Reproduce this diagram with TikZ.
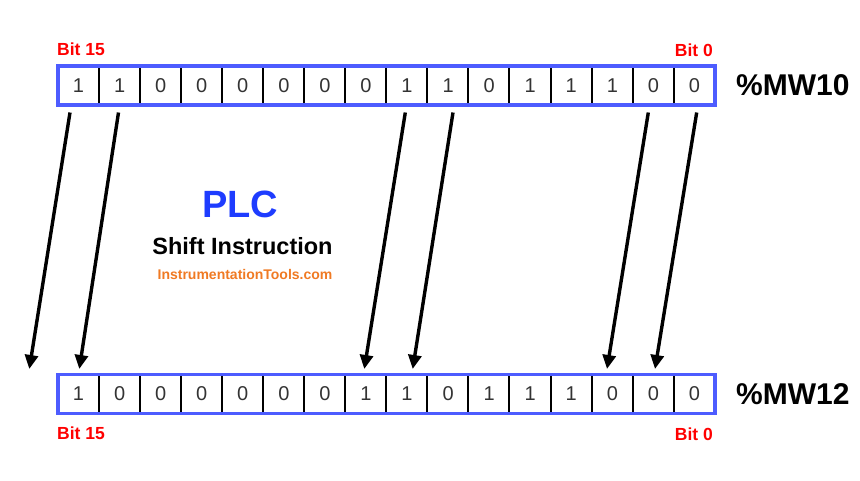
\documentclass[tikz,border=0pt]{standalone}
\usepackage{fontspec}
\setmainfont{Liberation Sans}
\usetikzlibrary{arrows.meta}
\definecolor{regblue}{RGB}{77,92,255}
\definecolor{plcblue}{RGB}{30,60,255}
\definecolor{bitred}{RGB}{255,0,0}
\definecolor{siteorange}{RGB}{240,122,35}
\begin{document}
\begin{tikzpicture}[x=1pt,y=-1pt,
  cell/.style={minimum width=41.06pt,minimum height=39pt,inner sep=0pt,
    font=\fontsize{20}{20}\selectfont,text=black!80},
  bitlabel/.style={inner sep=0pt,text=bitred,font=\fontsize{17.5}{17.5}\selectfont\bfseries},
  reglabel/.style={inner sep=0pt,text=black,font=\fontsize{30}{30}\selectfont\bfseries},
  divider/.style={draw=black,line width=2pt},
  regframe/.style={draw=regblue,line width=3.5pt},
  shiftarrow/.style={draw=black,line width=3.4pt,-{Triangle[length=14pt,width=13pt]}}]
\useasboundingbox (0,0) rectangle (860,480);
\fill[white] (0,0) rectangle (860,480);
% top register %MW10
\foreach \b [count=\i from 0] in {1,1,0,0,0,0,0,0,1,1,0,1,1,1,0,0}
  \node[cell] (t\i) at ({58+41.06*(\i+0.5)},85.5) {\b};
% bottom register %MW12
\foreach \b [count=\i from 0] in {1,0,0,0,0,0,0,1,1,0,1,1,1,0,0,0}
  \node[cell] (b\i) at ({58+41.06*(\i+0.5)},394) {\b};
\foreach \i in {1,...,15} {
  \draw[divider] (t\i.north west) -- (t\i.south west);
  \draw[divider] (b\i.north west) -- (b\i.south west);
}
\draw[regframe] (t0.north west) rectangle (t15.south east);
\draw[regframe] (b0.north west) rectangle (b15.south east);
% labels
\node[bitlabel,anchor=base west] (t15lbl) at (57,55) {Bit 15};
\node[bitlabel,anchor=base east] (t0lbl) at (713,56) {Bit 0};
\node[bitlabel,anchor=base west] (b15lbl) at (57,439) {Bit 15};
\node[bitlabel,anchor=base east] (b0lbl) at (713,440) {Bit 0};
\node[reglabel,anchor=base west] (mw10) at (736,95) {\%MW10};
\node[reglabel,anchor=base west] (mw12) at (736,404) {\%MW12};
% title
\node[inner sep=0pt,anchor=base,text=plcblue,font=\fontsize{38}{38}\selectfont\bfseries] (plc) at (240,217) {PLC};
\node[inner sep=0pt,anchor=base,text=black,font=\fontsize{23.5}{23.5}\selectfont\bfseries] (shift) at (242.5,254) {Shift Instruction};
\node[inner sep=0pt,anchor=base,text=siteorange,font=\fontsize{14}{14}\selectfont\bfseries] (site) at (245,279) {InstrumentationTools.com};
% arrow end points
\coordinate (s1) at (70,112.5);   \coordinate (e1) at (29.3,369);
\coordinate (s2) at (118.5,112.5);\coordinate (e2) at (79.3,369);
\coordinate (s3) at (405.3,112.5);\coordinate (e3) at (364.3,369);
\coordinate (s4) at (453,112.5);  \coordinate (e4) at (412.7,369);
\coordinate (s5) at (648.3,112.5);\coordinate (e5) at (607,369);
\coordinate (s6) at (696.7,112.5);\coordinate (e6) at (655,369);
\foreach \k in {1,...,6}
  \draw[shiftarrow] (s\k) -- (e\k);
\end{tikzpicture}
\end{document}
